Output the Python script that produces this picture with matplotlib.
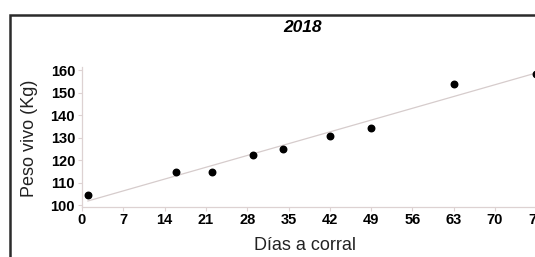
import numpy as np
import matplotlib
matplotlib.use("Agg")
import matplotlib.pyplot as plt
from matplotlib.patches import Rectangle

# datos
dias = np.array([1, 16, 22, 29, 34, 42, 49, 63, 77])
peso = np.array([104.5, 115.0, 115.0, 122.5, 125.2, 131.0, 134.5, 154.0, 158.5])
xticks = [0, 7, 14, 21, 28, 35, 42, 49, 56, 63, 70, 77]
yticks = [100, 110, 120, 130, 140, 150, 160]

plt.rcParams["font.family"] = ["Liberation Sans", "DejaVu Sans"]

W, H = 535, 257
fig = plt.figure(figsize=(W / 100, H / 100), dpi=100)

# ejes: x=0 en px 82, 5.9 px/dia ; y=99.5 en px 206 desde arriba, 2.25 px/kg
x0, x1 = 0, 80
y0, y1 = 99.5, 161.5
left = 82 / W
bottom = (H - 206.5) / H
ax = fig.add_axes([left, bottom, (x1 - x0) * 5.9 / W, (y1 - y0) * 2.25 / H])

# recta de regresion
a1, a0 = np.polyfit(dias, peso, 1)
xr = np.array([dias.min(), dias.max()])
ax.plot(xr, a1 * xr + a0, color="#d6cccc", lw=0.9, zorder=2)
ax.scatter(dias, peso, s=22, color="black", zorder=3, clip_on=False)

ax.set_xlim(x0, x1)
ax.set_ylim(y0, y1)
ax.set_xticks(xticks)
ax.set_yticks(yticks)
for s in ["top", "right"]:
    ax.spines[s].set_visible(False)
for s in ["left", "bottom"]:
    ax.spines[s].set_color("#ddd2d2")
    ax.spines[s].set_linewidth(0.9)
ax.tick_params(length=3, width=0.8, color="#ddd2d2", pad=2,
               labelsize=10.5, labelcolor="black")
for lab in ax.get_xticklabels() + ax.get_yticklabels():
    lab.set_fontweight("bold")

fig.text(29 / W, 1 - 138 / H, "Peso vivo (Kg)", rotation=90, fontsize=13,
         ha="center", va="center", color="#222222")
fig.text(305 / W, 1 - 245 / H, "Días a corral", fontsize=13,
         ha="center", va="center", color="#222222")
fig.text(303 / W, 1 - 27 / H, "2018", fontsize=12.5, fontweight="bold",
         fontstyle="italic", ha="center", va="center")

# marco exterior (cortado a la derecha y abajo)
fig.add_artist(Rectangle((9.5 / W, -0.2), 1.2, 1 - 14.5 / H + 0.2,
                         transform=fig.transFigure, fill=False,
                         edgecolor="#2b2b2b", lw=1.8))

fig.savefig("out.png", dpi=100)
